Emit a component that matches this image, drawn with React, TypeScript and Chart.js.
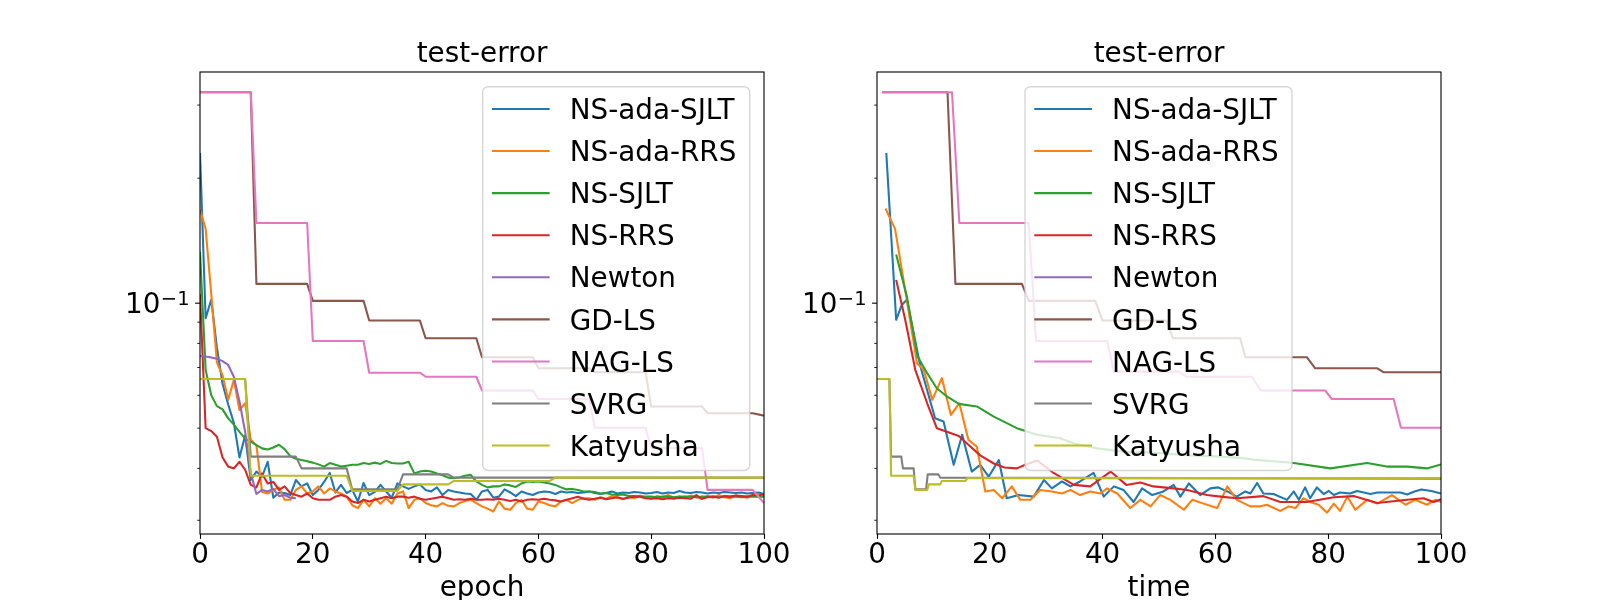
import { useEffect, useRef } from 'react';
import { Chart, registerables } from 'chart.js';

Chart.register(...registerables);

const FONT = '"DejaVu Sans", sans-serif';
const FS = 27.8;

const NAMES = ['NS-ada-SJLT', 'NS-ada-RRS', 'NS-SJLT', 'NS-RRS', 'Newton', 'GD-LS', 'NAG-LS', 'SVRG', 'Katyusha'];
const COLORS = ['#1f77b4', '#ff7f0e', '#2ca02c', '#d62728', '#9467bd', '#8c564b', '#e377c2', '#7f7f7f', '#bcbd22'];

const Y_MIN = 0.0278;
const Y_MAX = 0.3604;
const Y_TICK_VALUES = [0.1];
// mantissa and exponent of the labelled decade ticks
const Y_TICK_BASES = ['10'];
const Y_TICK_EXPONENTS = ['\u22121'];
const Y_MINOR_TICKS = [0.03, 0.04, 0.05, 0.06, 0.07, 0.08, 0.09, 0.2, 0.3];
const X_TICKS = [0, 20, 40, 60, 80, 100];

// ---- left panel: test error per epoch ----
const EPOCHS = Array.from({ length: 101 }, (_, i) => i);

const EPOCH_ADA_SJLT = [
  0.23, 0.092, 0.102, 0.078, 0.064, 0.057, 0.0515, 0.0425, 0.048, 0.0375,
  0.0393, 0.0382, 0.0415, 0.034, 0.035, 0.0349, 0.0345, 0.0375, 0.0362, 0.0368,
  0.0345, 0.0355, 0.0371, 0.039, 0.035, 0.0365, 0.0349, 0.0355, 0.0333, 0.0369,
  0.0345, 0.0351, 0.0365, 0.0352, 0.034, 0.0368, 0.0362, 0.0357, 0.0362, 0.0366,
  0.0355, 0.0352, 0.036, 0.0345, 0.0355, 0.0352, 0.035, 0.0348, 0.0347, 0.0336,
  0.0352, 0.0355, 0.034, 0.0342, 0.0356, 0.035, 0.0343, 0.0352, 0.0348, 0.0345,
  0.035, 0.0352, 0.0351, 0.0347, 0.0352, 0.035, 0.0351, 0.0349, 0.035, 0.0352,
  0.0349, 0.0347, 0.0349, 0.0352, 0.0348, 0.035, 0.0349, 0.0351, 0.035, 0.0348,
  0.0349, 0.0351, 0.0348, 0.035, 0.0349, 0.0353, 0.035, 0.0349, 0.0351, 0.035,
  0.0348, 0.035, 0.0349, 0.0351, 0.035, 0.0349, 0.035, 0.0348, 0.0349, 0.035,
  0.0347,
];
const EPOCH_ADA_RRS = [
  0.168, 0.151, 0.105, 0.072, 0.067, 0.0585, 0.0654, 0.0553, 0.0574, 0.0469,
  0.0455, 0.0351, 0.0348, 0.0355, 0.036, 0.0336, 0.0336, 0.0355, 0.0362, 0.0348,
  0.0352, 0.0362, 0.0348, 0.0358, 0.0352, 0.0348, 0.0342, 0.0326, 0.0321, 0.0336,
  0.0324, 0.0339, 0.0329, 0.0339, 0.0329, 0.0348, 0.0352, 0.0321, 0.0336, 0.0339,
  0.033, 0.0326, 0.0324, 0.033, 0.0325, 0.0324, 0.033, 0.0334, 0.0336, 0.033,
  0.0324, 0.032, 0.0315, 0.0333, 0.032, 0.0318, 0.033, 0.0336, 0.032, 0.0318,
  0.0333, 0.033, 0.0326, 0.0324, 0.0333, 0.0336, 0.033, 0.0336, 0.0339, 0.0339,
  0.0336, 0.0341, 0.0338, 0.0343, 0.034, 0.0337, 0.0342, 0.0339, 0.0344, 0.034,
  0.0338, 0.0343, 0.0341, 0.0345, 0.034, 0.0342, 0.0339, 0.0344, 0.0341, 0.0338,
  0.0343, 0.034, 0.0345, 0.0341, 0.0339, 0.0344, 0.0342, 0.034, 0.0345, 0.0343,
  0.0344,
];
const EPOCH_SJLT = [
  0.133, 0.069, 0.06, 0.0565, 0.0555, 0.0528, 0.051, 0.049, 0.0472, 0.0464,
  0.0455, 0.0447, 0.0444, 0.0449, 0.0456, 0.0445, 0.0428, 0.0422, 0.0419, 0.0416,
  0.0413, 0.0409, 0.0404, 0.0412, 0.0408, 0.0404, 0.0406, 0.0408, 0.0408, 0.0412,
  0.041, 0.0413, 0.041, 0.0417, 0.0412, 0.0411, 0.0411, 0.0415, 0.0389, 0.0393,
  0.0395, 0.0393, 0.0389, 0.0385, 0.038, 0.0379, 0.0381, 0.0384, 0.0386, 0.0372,
  0.0365, 0.036, 0.0362, 0.0362, 0.0366, 0.0364, 0.0361, 0.0368, 0.0372, 0.0371,
  0.0372, 0.037, 0.0368, 0.0365, 0.036, 0.0356, 0.0357, 0.0355, 0.0352, 0.0352,
  0.0351, 0.0348, 0.0349, 0.0346, 0.0345, 0.0346, 0.0343, 0.0343, 0.0342, 0.0342,
  0.0342, 0.0341, 0.0342, 0.0342, 0.0341, 0.0342, 0.0342, 0.0342, 0.0341, 0.0342,
  0.0342, 0.0342, 0.0341, 0.0342, 0.0342, 0.0342, 0.0341, 0.0342, 0.0342, 0.0342,
  0.0342,
];
const EPOCH_RRS = [
  0.105, 0.05, 0.0492, 0.0477, 0.0425, 0.0404, 0.04, 0.0415, 0.0397, 0.0365,
  0.036, 0.0389, 0.0368, 0.0371, 0.0355, 0.0362, 0.0349, 0.0345, 0.0342, 0.0348,
  0.0339, 0.0336, 0.0336, 0.0336, 0.0342, 0.0345, 0.0342, 0.0333, 0.033, 0.0336,
  0.0333, 0.0336, 0.0339, 0.0342, 0.0339, 0.0342, 0.0342, 0.034, 0.0342, 0.0338,
  0.0336, 0.0338, 0.034, 0.0342, 0.0339, 0.0336, 0.0337, 0.0336, 0.0338, 0.0336,
  0.0336, 0.0337, 0.0336, 0.0338, 0.0336, 0.0334, 0.0336, 0.0333, 0.0336, 0.0337,
  0.0336, 0.0338, 0.0336, 0.0335, 0.0333, 0.0336, 0.0339, 0.0342, 0.0338, 0.0336,
  0.0338, 0.034, 0.0337, 0.0339, 0.0341, 0.0338, 0.034, 0.0342, 0.0342, 0.0339,
  0.0338, 0.0339, 0.0337, 0.0339, 0.0338, 0.034, 0.0339, 0.0338, 0.0345, 0.0338,
  0.0341, 0.0342, 0.034, 0.0343, 0.0342, 0.0344, 0.0343, 0.0342, 0.0345, 0.0344,
  0.0347,
];
const NEWTON_EPOCHS = [0, 1, 2, 3, 4, 5, 6, 7, 8, 9, 10, 11, 12, 13, 14, 15, 16, 17];
const NEWTON_ERR = [
  0.0746, 0.0744, 0.074, 0.0735, 0.0725, 0.071, 0.0665, 0.058, 0.049, 0.039,
  0.0347, 0.0355, 0.0352, 0.0357, 0.0343, 0.0345, 0.034, 0.0339,
];
const GD_EPOCHS = [0, 9, 10, 19, 20, 29, 30, 39, 40, 49, 50, 59, 60, 69, 70, 79, 80, 89, 90, 98, 100];
const GD_ERR = [
  0.322, 0.322, 0.1113, 0.1113, 0.1013, 0.1013, 0.0908, 0.0908, 0.0823, 0.0823, 0.0741,
  0.0741, 0.0697, 0.0697, 0.0682, 0.0682, 0.0564, 0.0564, 0.0543, 0.0543, 0.0536,
];
const NAG_EPOCHS = [0, 9, 10, 19, 20, 29, 30, 39, 40, 49, 50, 59, 60, 69, 70, 79, 80, 89, 90, 98, 100];
const NAG_ERR = [
  0.322, 0.322, 0.156, 0.156, 0.0811, 0.0811, 0.068, 0.068, 0.0665, 0.0665, 0.0616,
  0.0616, 0.0588, 0.0588, 0.0501, 0.0501, 0.0448, 0.0448, 0.0355, 0.0355, 0.033,
];
const SVRG_EPOCHS = [0, 8, 9, 17, 18, 26, 27, 35, 36, 44, 45, 100];
const SVRG_ERR = [0.0657, 0.0657, 0.0427, 0.0427, 0.04, 0.04, 0.0356, 0.0356, 0.0387, 0.0387, 0.038, 0.038];
const KAT_EPOCHS = [0, 8, 9, 26, 27, 35, 36, 44, 45, 62, 63, 100];
const KAT_ERR = [0.0657, 0.0657, 0.0384, 0.0384, 0.0353, 0.0353, 0.0366, 0.0366, 0.0373, 0.0373, 0.038, 0.038];

// ---- right panel: test error against time ----
const T_ADA_SJLT = [
  1.65, 3.4, 4.4, 5.3, 7.7, 10.3, 11.8, 13.6, 15.1, 16.8, 18.3, 19.8, 21.6, 23.0, 25.1,
  27.8, 29.6, 31.0, 32.8, 34.3, 36.0, 38.4, 40.2, 42.0, 43.7, 45.5, 47.0, 48.8, 50.8, 52.6,
  53.8, 55.3, 57.3, 59.1, 60.5, 62.1, 63.8, 65.3, 66.2, 67.4, 68.5, 70.3, 72.7, 73.9, 74.8,
  75.9, 76.8, 78.0, 79.2, 80.1, 81.0, 82.1, 83.9, 85.1, 87.5, 88.7, 90.7, 92.8, 94.0, 95.3,
  96.5, 98.3, 100,
];
const V_ADA_SJLT = [
  0.23, 0.0912, 0.099, 0.102, 0.0704, 0.0528, 0.0519, 0.0408, 0.0482, 0.0393, 0.0408, 0.0382, 0.0419, 0.0339, 0.0345,
  0.0342, 0.0375, 0.0358, 0.0372, 0.0362, 0.0372, 0.039, 0.0342, 0.0362, 0.0355, 0.0332, 0.0358, 0.0345, 0.0352, 0.0365,
  0.0342, 0.0368, 0.0345, 0.0358, 0.036, 0.0352, 0.0342, 0.0352, 0.0348, 0.0369, 0.0348, 0.0347, 0.0336, 0.0352, 0.0336,
  0.036, 0.0339, 0.036, 0.0347, 0.0353, 0.0345, 0.035, 0.0348, 0.0353, 0.0347, 0.035, 0.035, 0.035, 0.0346, 0.0352,
  0.0356, 0.0353, 0.0348,
];
const T_ADA_RRS = [
  1.5, 3.2, 4.7, 7.1, 8.3, 9.8, 11.5, 13.1, 14.6, 16.2, 17.7, 19.2, 20.7, 22.2, 23.9,
  25.4, 27.2, 28.9, 31.0, 32.8, 34.3, 36.0, 37.8, 39.6, 40.8, 42.6, 44.9, 46.7, 48.5, 50.2,
  52.0, 54.4, 55.9, 57.9, 60.3, 62.1, 63.8, 66.2, 67.8, 69.1, 71.5, 73.0, 74.2, 75.6, 76.8,
  78.3, 79.8, 81.0, 82.1, 83.4, 84.8, 86.9, 88.7, 91.3, 93.7, 95.4, 97.5, 99.0, 100,
];
const V_ADA_RRS = [
  0.169, 0.151, 0.1138, 0.0717, 0.069, 0.0585, 0.066, 0.0538, 0.0574, 0.0469, 0.0451, 0.0352, 0.0355, 0.0339, 0.0362,
  0.0336, 0.0336, 0.0355, 0.0352, 0.0348, 0.0355, 0.0345, 0.0352, 0.0348, 0.0358, 0.0348, 0.0321, 0.0336, 0.0324, 0.0345,
  0.0336, 0.0318, 0.0336, 0.0329, 0.0321, 0.0362, 0.0336, 0.0324, 0.0324, 0.0327, 0.0316, 0.0324, 0.0321, 0.0339, 0.0332,
  0.0327, 0.0313, 0.0329, 0.0316, 0.0342, 0.0318, 0.0336, 0.0329, 0.0345, 0.0327, 0.0336, 0.0327, 0.0336, 0.0332,
];
const T_SJLT = [
  3.4, 5.3, 7.2, 8.9, 10.6, 12.4, 14.5, 17.7, 20.7, 24.8, 28.4, 32.5, 34.8, 39.0,
  43.7, 49.6, 55.5, 60.9, 64.4, 66.8, 73.9, 80.4, 86.9, 90.4, 94.0, 97.5, 100,
];
const V_SJLT = [
  0.131, 0.1037, 0.0744, 0.0678, 0.0624, 0.0596, 0.0572, 0.0564, 0.0533, 0.05, 0.0482, 0.0473, 0.046, 0.0447,
  0.0439, 0.0436, 0.043, 0.0427, 0.0424, 0.042, 0.0412, 0.04, 0.0412, 0.0404, 0.0404, 0.04, 0.0409,
];
const T_RRS = [
  3.4, 5.0, 6.8, 8.9, 10.6, 12.4, 14.5, 16.2, 18.3, 20.7, 22.6, 24.8, 26.3, 28.4, 31.3, 34.9, 37.8, 41.4,
  44.2, 46.7, 49.0, 52.6, 55.0, 58.5, 60.9, 63.8, 68.5, 71.5, 76.2, 81.0, 84.5, 88.7, 94.0, 96.9, 98.7, 100,
];
const V_RRS = [
  0.1138, 0.0912, 0.069, 0.0574, 0.05, 0.049, 0.0479, 0.0456, 0.043, 0.0411, 0.0402, 0.04, 0.0408, 0.0418, 0.039, 0.0365, 0.0362, 0.0393,
  0.0365, 0.037, 0.0362, 0.0358, 0.0355, 0.0345, 0.0342, 0.0339, 0.0343, 0.0332, 0.0332, 0.0341, 0.0343, 0.033, 0.0336, 0.0339, 0.0332, 0.0337,
];
const T_NEWTON: number[] = [];
const V_NEWTON: number[] = [];
const T_GD = [0.9, 12.5, 13.9, 25.7, 26.9, 38.7, 40.0, 51.3, 52.5, 64.4, 65.3, 76.2, 77.7, 88.7, 89.8, 100];
const V_GD = [0.322, 0.322, 0.1113, 0.1113, 0.1013, 0.1013, 0.0908, 0.0908, 0.0823, 0.0823, 0.0741, 0.0741, 0.0697, 0.0697, 0.0682, 0.0682];
const T_NAG = [0.9, 13.3, 14.6, 26.9, 28.2, 40.8, 42.0, 53.5, 54.8, 66.5, 68.0, 79.5, 80.6, 91.6, 92.9, 100];
const V_NAG = [0.322, 0.322, 0.156, 0.156, 0.0811, 0.0811, 0.0684, 0.0684, 0.0665, 0.0665, 0.0616, 0.0616, 0.0588, 0.0588, 0.0501, 0.0501];
const T_SVRG = [0, 2.2, 2.5, 4.3, 4.6, 6.5, 6.8, 8.7, 9.0, 10.9, 11.2, 100];
const V_SVRG = [0.0657, 0.0657, 0.0427, 0.0427, 0.04, 0.04, 0.0356, 0.0356, 0.0387, 0.0387, 0.038, 0.0378];
const T_KAT = [0, 2.2, 2.5, 6.5, 6.8, 8.9, 9.2, 11.2, 11.5, 15.7, 16.0, 100];
const V_KAT = [0.0657, 0.0657, 0.0384, 0.0384, 0.0355, 0.0355, 0.0366, 0.0366, 0.0373, 0.0373, 0.0379, 0.0379];

interface Series {
  xs: number[];
  ys: number[];
}

const EPOCH_SERIES: Series[] = [
  { xs: EPOCHS, ys: EPOCH_ADA_SJLT },
  { xs: EPOCHS, ys: EPOCH_ADA_RRS },
  { xs: EPOCHS, ys: EPOCH_SJLT },
  { xs: EPOCHS, ys: EPOCH_RRS },
  { xs: NEWTON_EPOCHS, ys: NEWTON_ERR },
  { xs: GD_EPOCHS, ys: GD_ERR },
  { xs: NAG_EPOCHS, ys: NAG_ERR },
  { xs: SVRG_EPOCHS, ys: SVRG_ERR },
  { xs: KAT_EPOCHS, ys: KAT_ERR },
];

const TIME_SERIES: Series[] = [
  { xs: T_ADA_SJLT, ys: V_ADA_SJLT },
  { xs: T_ADA_RRS, ys: V_ADA_RRS },
  { xs: T_SJLT, ys: V_SJLT },
  { xs: T_RRS, ys: V_RRS },
  { xs: T_NEWTON, ys: V_NEWTON },
  { xs: T_GD, ys: V_GD },
  { xs: T_NAG, ys: V_NAG },
  { xs: T_SVRG, ys: V_SVRG },
  { xs: T_KAT, ys: V_KAT },
];

interface PanelProps {
  xLabel: string;
  series: Series[];
  axisWidth: number;
  padRight: number;
  legendDx: number;
}

function Panel({ xLabel, series, axisWidth, padRight, legendDx }: PanelProps) {
  const canvasRef = useRef<HTMLCanvasElement>(null);
  const chartRef = useRef<Chart | null>(null);

  useEffect(() => {
    if (!canvasRef.current) return;
    if (chartRef.current) chartRef.current.destroy();

    // log-axis ticks with 10^x labels, the axes box and the matplotlib-like legend
    const decor = {
      id: 'decor',
      afterDatasetsDraw(chart: Chart) {
        const { ctx, chartArea: a } = chart;
        const y = chart.scales.y;
        ctx.save();
        ctx.strokeStyle = '#000';
        ctx.lineWidth = 0.83;
        for (const v of Y_MINOR_TICKS) {
          const py = y.getPixelForValue(v);
          ctx.beginPath();
          ctx.moveTo(a.left - 2.8, py);
          ctx.lineTo(a.left, py);
          ctx.stroke();
        }
        ctx.lineWidth = 1.1;
        ctx.fillStyle = '#000';
        ctx.textBaseline = 'alphabetic';
        Y_TICK_VALUES.forEach((v, i) => {
          const py = y.getPixelForValue(v);
          ctx.beginPath();
          ctx.moveTo(a.left - 4.9, py);
          ctx.lineTo(a.left, py);
          ctx.stroke();
          const supSize = FS * 0.7;
          ctx.font = `${supSize}px ${FONT}`;
          const supW = ctx.measureText(Y_TICK_EXPONENTS[i]).width;
          const supX = a.left - 10.5 - supW;
          ctx.textAlign = 'left';
          ctx.fillText(Y_TICK_EXPONENTS[i], supX, py + 1.8);
          ctx.font = `${FS}px ${FONT}`;
          ctx.textAlign = 'right';
          ctx.fillText(Y_TICK_BASES[i], supX - 0.5, py + 10);
        });
        ctx.strokeRect(a.left, a.top, a.right - a.left, a.bottom - a.top);

        const lx = a.left + legendDx;
        const ly = a.top + 14.7;
        ctx.beginPath();
        ctx.roundRect(lx, ly, 267, 383.8, 5.6);
        ctx.fillStyle = 'rgba(255,255,255,0.8)';
        ctx.fill();
        ctx.lineWidth = 1.39;
        ctx.strokeStyle = 'rgba(204,204,204,0.8)';
        ctx.stroke();
        ctx.font = `${FS}px ${FONT}`;
        ctx.textBaseline = 'alphabetic';
        ctx.textAlign = 'left';
        NAMES.forEach((name, i) => {
          const yy = ly + 22.3 + 42.07 * i;
          ctx.beginPath();
          ctx.strokeStyle = COLORS[i];
          ctx.lineWidth = 2.08;
          ctx.lineCap = 'square';
          ctx.moveTo(lx + 10.3, yy);
          ctx.lineTo(lx + 65.9, yy);
          ctx.stroke();
          ctx.fillStyle = '#000';
          ctx.fillText(name, lx + 87.1, yy + 10.2);
        });
        ctx.restore();
      },
    };

    chartRef.current = new Chart(canvasRef.current, {
      type: 'line',
      data: {
        datasets: series.map((s, i) => ({
          label: NAMES[i],
          data: s.xs.map((x, k) => ({ x, y: s.ys[k] })),
          borderColor: COLORS[i],
          backgroundColor: COLORS[i],
          borderWidth: 2.08,
          borderJoinStyle: 'round' as const,
          pointRadius: 0,
          tension: 0,
          fill: false,
          order: NAMES.length - i,
        })),
      },
      options: {
        responsive: false,
        animation: false,
        events: [],
        layout: { padding: { left: 0, right: padRight, top: 0, bottom: 0 } },
        plugins: {
          legend: { display: false },
          tooltip: { enabled: false },
          title: {
            display: true,
            text: 'test-error',
            fullSize: false,
            color: '#000',
            font: { family: FONT, size: FS, weight: 'normal', lineHeight: 1 },
            padding: { top: 40.5, bottom: 3.7 },
          },
        },
        scales: {
          x: {
            type: 'linear',
            min: 0,
            max: 100,
            afterBuildTicks: (scale) => {
              scale.ticks = X_TICKS.map((v) => ({ value: v }));
            },
            afterFit: (scale) => {
              scale.height = 66;
            },
            ticks: {
              color: '#000',
              font: { family: FONT, size: FS, lineHeight: 1 },
              padding: 2.6,
              maxRotation: 0,
              autoSkip: false,
            },
            grid: {
              display: true,
              drawOnChartArea: false,
              drawTicks: true,
              tickLength: 4.9,
              tickWidth: 1.1,
              tickColor: '#000',
            },
            border: { display: false },
            title: {
              display: true,
              text: xLabel,
              color: '#000',
              font: { family: FONT, size: FS, lineHeight: 1 },
              padding: { top: 0, bottom: -2.3 },
            },
          },
          y: {
            type: 'logarithmic',
            min: Y_MIN,
            max: Y_MAX,
            afterBuildTicks: (scale) => {
              scale.ticks = Y_TICK_VALUES.map((v) => ({ value: v }));
            },
            afterFit: (scale) => {
              scale.width = axisWidth;
            },
            ticks: { display: false },
            grid: { display: false },
            border: { display: false },
          },
        },
      },
      plugins: [decor],
    });

    return () => {
      if (chartRef.current) {
        chartRef.current.destroy();
        chartRef.current = null;
      }
    };
  }, [xLabel, series, axisWidth, padRight, legendDx]);

  return <canvas ref={canvasRef} width={800} height={600} style={{ display: 'block', width: 800, height: 600 }} />;
}

export default function App() {
  useEffect(() => {
    document.body.style.margin = '0';
  }, []);

  return (
    <div style={{ position: 'relative', width: 1600, height: 600, overflow: 'hidden', background: '#fff' }}>
      <div style={{ position: 'absolute', left: 0, top: 0 }}>
        <Panel xLabel="epoch" series={EPOCH_SERIES} axisWidth={200} padRight={36} legendDx={282.7} />
      </div>
      <div style={{ position: 'absolute', left: 800, top: 0 }}>
        <Panel xLabel="time" series={TIME_SERIES} axisWidth={77} padRight={159} legendDx={148} />
      </div>
    </div>
  );
}
